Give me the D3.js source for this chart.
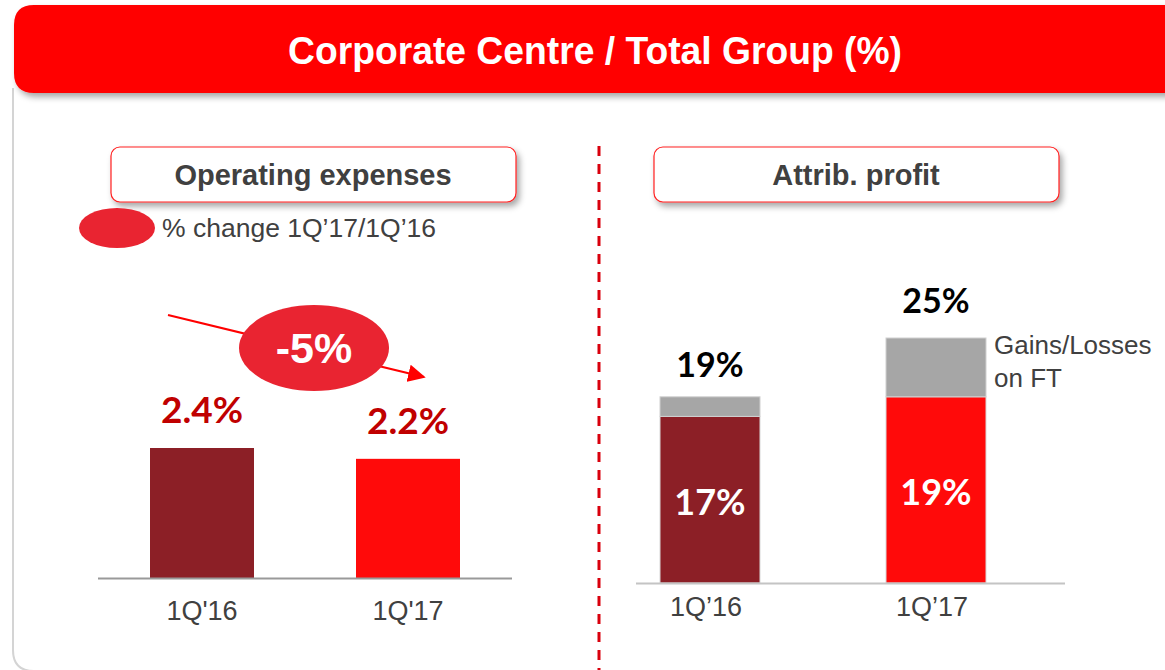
<!DOCTYPE html>
<html>
<head>
<meta charset="utf-8">
<script src="https://cdn.jsdelivr.net/npm/d3@7"></script>
<style>
  html, body { margin: 0; padding: 0; background: #fff; }
  svg { display: block; }
</style>
</head>
<body>
<div id="chart"></div>
<script>
// Chart data
var periods = ["1Q'16", "1Q'17"];
var periodsRight = ["1Q\u201916", "1Q\u201917"];
var opexValues = [2.4, 2.2];
var opexChange = "-5%";
var profitBase = [17, 19];
var profitGains = [2, 6];
var profitTotals = [19, 25];

var W = 1165, H = 670;
var darkRed = "#8c1f26", brightRed = "#ff0a0a", grey = "#a6a6a6", txt = "#404040";
var sans = "'Liberation Sans', Arial, sans-serif";
var num = "Lato, 'Open Sans', sans-serif";

var svg = d3.select("#chart").append("svg")
    .attr("width", W).attr("height", H);

var defs = svg.append("defs");
var sh = defs.append("filter").attr("id", "shadow")
    .attr("x", "-10%").attr("y", "-20%").attr("width", "130%").attr("height", "160%");
sh.append("feDropShadow").attr("dx", 3).attr("dy", 4).attr("stdDeviation", 3)
    .attr("flood-color", "#000").attr("flood-opacity", 0.35);
defs.append("marker").attr("id", "arrow")
    .attr("viewBox", "0 0 10 10").attr("refX", 9).attr("refY", 5)
    .attr("markerWidth", 8).attr("markerHeight", 8).attr("orient", "auto")
    .append("path").attr("d", "M0,0 L10,5 L0,10 z").attr("fill", "#ff0000");

// panel outline (left edge + rounded bottom corner, bottom edge sits just off-screen)
svg.append("path")
    .attr("d", "M13,88 L13,650 Q13,671 34,671 L1165,671")
    .attr("fill", "none").attr("stroke", "#d4d4d4").attr("stroke-width", 2);

// header
svg.append("path")
    .attr("d", "M14,25 Q14,5 34,5 L1170,5 L1170,93 L34,93 Q14,93 14,73 Z")
    .attr("fill", "#ff0000").attr("filter", "url(#shadow)");
svg.append("text").attr("x", 595).attr("y", 64)
    .attr("text-anchor", "middle").attr("fill", "#fff")
    .attr("textLength", 614).attr("lengthAdjust", "spacingAndGlyphs")
    .style("font", "bold 39px " + sans)
    .text("Corporate Centre / Total Group (%)");

// divider
svg.append("line").attr("x1", 599).attr("x2", 599).attr("y1", 146).attr("y2", 670)
    .attr("stroke", "#d9000d").attr("stroke-width", 3).attr("stroke-dasharray", "10,8");

// section title boxes
function titleBox(x, label) {
    svg.append("rect").attr("x", x).attr("y", 147).attr("width", 405).attr("height", 55)
        .attr("rx", 9).attr("fill", "#fff").attr("stroke", "#ff2020").attr("stroke-width", 1.2)
        .attr("filter", "url(#shadow)");
    svg.append("text").attr("x", x + 202).attr("y", 185)
        .attr("text-anchor", "middle").attr("fill", txt)
        .style("font", "bold 29px " + sans)
        .text(label);
}
titleBox(111, "Operating expenses");
titleBox(654, "Attrib. profit");

// legend
svg.append("ellipse").attr("cx", 117).attr("cy", 228).attr("rx", 38).attr("ry", 20)
    .attr("fill", "#e92431");
svg.append("text").attr("x", 162).attr("y", 237).attr("fill", txt)
    .style("font", "26.5px " + sans)
    .text("% change 1Q\u201917/1Q\u201916");

/* ---- Left chart: operating expenses ---- */
var xL = d3.scaleOrdinal().domain(periods).range([202, 408]);
var bwL = 104;
var yL = d3.scaleLinear().domain([0, 2.4]).range([578, 448]);

svg.selectAll(".opex").data(opexValues).enter().append("rect")
    .attr("x", (d, i) => xL(periods[i]) - bwL / 2)
    .attr("y", d => yL(d))
    .attr("width", bwL)
    .attr("height", d => yL(0) - yL(d))
    .attr("fill", (d, i) => i === 0 ? darkRed : brightRed);

svg.append("line").attr("x1", 98).attr("x2", 512).attr("y1", 578.5).attr("y2", 578.5)
    .attr("stroke", "#999").attr("stroke-width", 2);

svg.selectAll(".opexLbl").data(opexValues).enter().append("text")
    .attr("x", (d, i) => xL(periods[i]))
    .attr("y", d => yL(d) - 25)
    .attr("text-anchor", "middle").attr("fill", "#c00000")
    .style("font", "bold 37px " + num)
    .text(d => d.toFixed(1) + "%");

svg.selectAll(".opexX").data(periods).enter().append("text")
    .attr("x", d => xL(d)).attr("y", 620)
    .attr("text-anchor", "middle").attr("fill", txt)
    .style("font", "27px " + sans)
    .text(d => d);

// change arrow + bubble
svg.append("line").attr("x1", 168).attr("y1", 315).attr("x2", 424).attr("y2", 377)
    .attr("stroke", "#ff0000").attr("stroke-width", 2.2).attr("marker-end", "url(#arrow)");
svg.append("ellipse").attr("cx", 314).attr("cy", 348).attr("rx", 75).attr("ry", 43)
    .attr("fill", "#e92431");
svg.append("text").attr("x", 314).attr("y", 363)
    .attr("text-anchor", "middle").attr("fill", "#fff")
    .style("font", "bold 43px " + sans)
    .text(opexChange);

/* ---- Right chart: attributable profit ---- */
var xR = d3.scaleOrdinal().domain(periodsRight).range([710, 936]);
var bwR = 100;
var yR = d3.scaleLinear().domain([0, 25]).range([583, 338]);

svg.selectAll(".base").data(profitBase).enter().append("rect")
    .attr("x", (d, i) => xR(periodsRight[i]) - bwR / 2)
    .attr("y", d => yR(d))
    .attr("width", bwR)
    .attr("height", d => yR(0) - yR(d))
    .attr("fill", (d, i) => i === 0 ? darkRed : brightRed)
    .attr("stroke", "#d8d8d8").attr("stroke-width", 1);

svg.selectAll(".gain").data(profitGains).enter().append("rect")
    .attr("x", (d, i) => xR(periodsRight[i]) - bwR / 2)
    .attr("y", (d, i) => yR(profitBase[i] + d))
    .attr("width", bwR)
    .attr("height", (d, i) => yR(profitBase[i]) - yR(profitBase[i] + d))
    .attr("fill", grey).attr("stroke", "#d0d0d0").attr("stroke-width", 1);

svg.append("line").attr("x1", 636).attr("x2", 1065).attr("y1", 583.5).attr("y2", 583.5)
    .attr("stroke", "#c4c4c4").attr("stroke-width", 2);

svg.selectAll(".baseLbl").data(profitBase).enter().append("text")
    .attr("x", (d, i) => xR(periodsRight[i]))
    .attr("y", (d, i) => i === 0 ? 515 : 505)
    .attr("text-anchor", "middle").attr("fill", "#fff")
    .style("font", "bold 36px " + num)
    .text(d => d + "%");

svg.selectAll(".totLbl").data(profitTotals).enter().append("text")
    .attr("x", (d, i) => xR(periodsRight[i]))
    .attr("y", (d, i) => yR(d) - (i === 0 ? 20 : 25))
    .attr("text-anchor", "middle").attr("fill", "#000")
    .style("font", "bold 34px " + num)
    .text(d => d + "%");

svg.selectAll(".profX").data(periodsRight).enter().append("text")
    .attr("x", d => xR(d) - 4).attr("y", 616)
    .attr("text-anchor", "middle").attr("fill", txt)
    .style("font", "27px " + sans)
    .text(d => d);

var gl = svg.append("text").attr("fill", txt)
    .style("font", "26px " + sans);
gl.append("tspan").attr("x", 994).attr("y", 354).text("Gains/Losses");
gl.append("tspan").attr("x", 994).attr("y", 387).text("on FT");
</script>
</body>
</html>
